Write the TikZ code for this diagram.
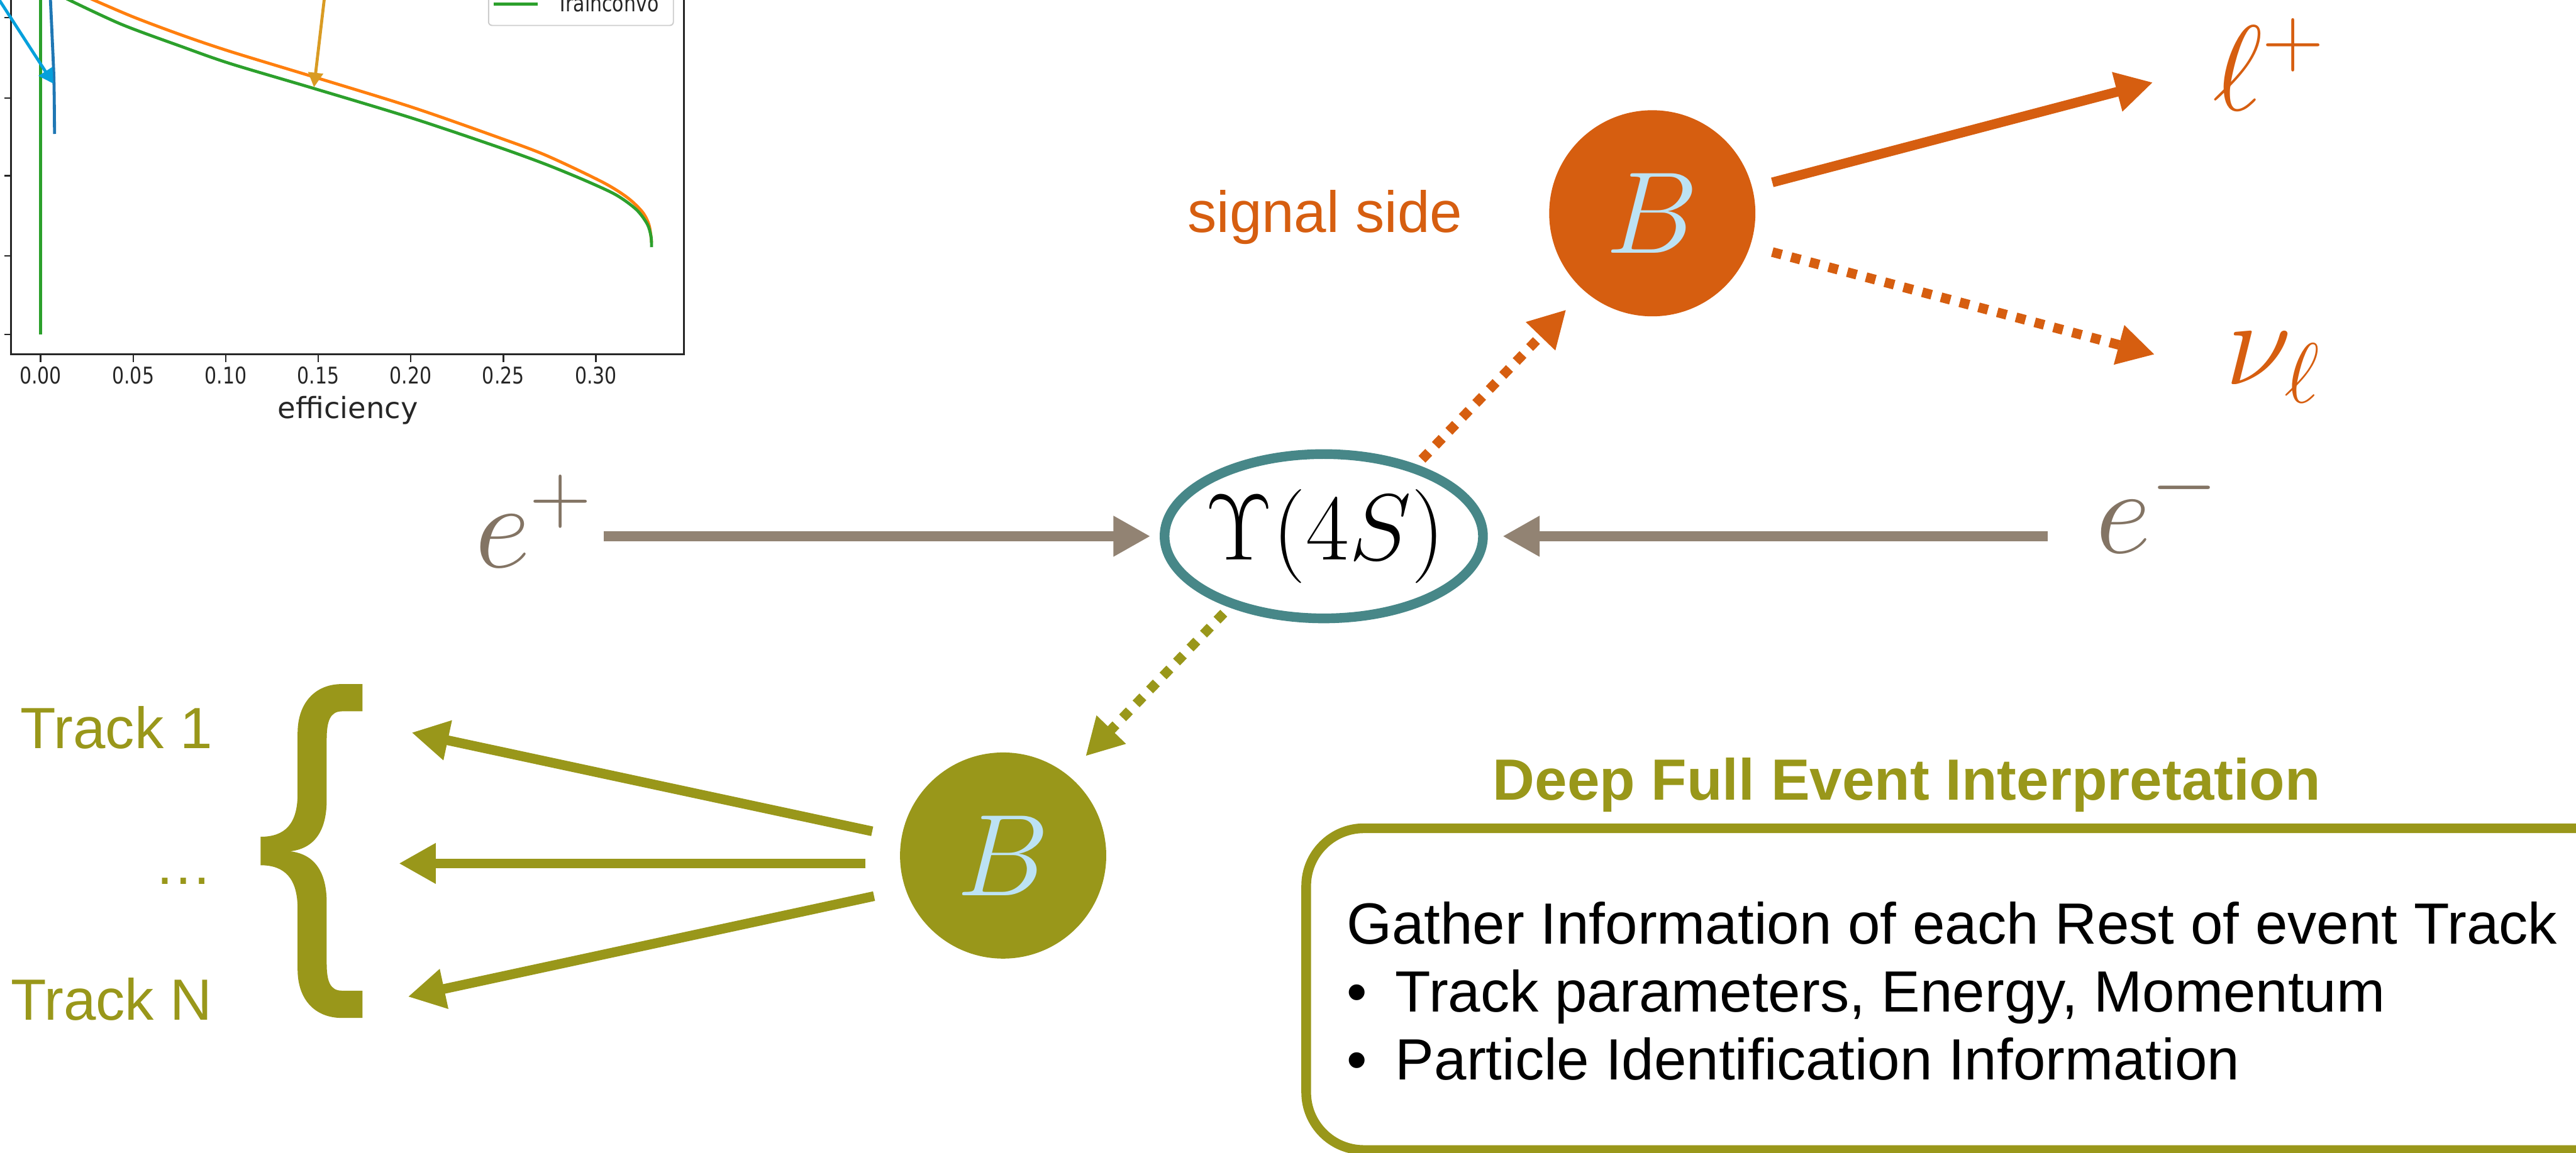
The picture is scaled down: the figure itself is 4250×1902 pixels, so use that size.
\RequirePackage{fix-cm}
\documentclass[tikz,border=0pt]{standalone}
\usepackage[no-math]{fontspec}
\newfontfamily\arial{Liberation Sans}
\newfontfamily\dejavu{DejaVu Sans}
\usetikzlibrary{arrows.meta,shapes.geometric}
\definecolor{sig}{RGB}{214,94,16}
\definecolor{tag}{RGB}{153,151,26}
\definecolor{tealring}{RGB}{71,135,136}
\definecolor{beam}{RGB}{146,131,115}
\definecolor{beamtxt}{RGB}{131,116,100}
\definecolor{bletter}{RGB}{188,226,244}
\definecolor{mplblue}{RGB}{31,119,180}
\definecolor{mplorange}{RGB}{255,127,14}
\definecolor{mplgreen}{RGB}{44,160,44}
\definecolor{annblue}{RGB}{5,160,220}
\definecolor{anngold}{RGB}{217,155,35}
\definecolor{axisgray}{RGB}{38,38,38}
\tikzset{
  fat/.style={line width=0.16cm},
  tri/.style={-{Triangle[length=0.61cm,width=0.63cm]}},
  dotline/.style={dash pattern=on 0.16cm off 0.16cm},
  sans/.style={font=\arial\fontsize{27.3}{33}\selectfont, inner sep=0},
  mathbig/.style={font=\fontsize{57}{62}\selectfont, inner sep=0},
  ticklab/.style={font=\dejavu\fontsize{10.8}{12}\selectfont, text=axisgray, inner sep=0},
  curve/.style={line width=0.05cm},
  particle/.style={circle, minimum size=3.4cm, inner sep=0, text=bletter, font=\fontsize{54.6}{58}\selectfont},
}
\begin{document}
\begin{tikzpicture}[x=0.01cm,y=-0.01cm]
\useasboundingbox (0,0) rectangle (4250,1902);
\clip (0,0) rectangle (4250,1902);

% ---------------- plot fragment ----------------
\draw[mplgreen, curve] (67,-5) -- (67,552);
\draw[mplblue, curve] plot[smooth] coordinates {(83,-5) (86,60) (89,133) (90,221)};
\draw[mplorange, curve] plot[smooth] coordinates {(150,-2) (220,28) (300,58) (380,85) (518,127) (680,177) (820,226) (900,256) (993,300) (1035,326) (1060,350) (1071,372) (1075,400)};
\draw[mplgreen, curve] plot[smooth] coordinates {(110,-2) (200,40) (300,77) (380,105) (518,146) (680,195) (820,242) (900,271) (968,299) (1017,322) (1050,346) (1068,370) (1074,390) (1075,408)};
\draw[axisgray, line width=0.03cm] (18,-10) -- (18,585) -- (1128,585) -- (1128,-10);
\foreach \yy in {29,162,290,422,552}
  \draw[axisgray, line width=0.025cm] (7,\yy) -- (18,\yy);
\foreach \k/\lab in {0/0.00,1/0.05,2/0.10,3/0.15,4/0.20,5/0.25,6/0.30}{
  \draw[axisgray, line width=0.025cm] (67+152.7*\k,585) -- (67+152.7*\k,598);
  \node[ticklab, anchor=base] (tick\k) at (67+152.7*\k,633) {\scalebox{0.82}[1]{\lab}};
}
\node[font=\dejavu\fontsize{13.7}{16}\selectfont, text=axisgray, inner sep=0, anchor=base] (xlab) at (574,690) {efficiency};
\draw[rounded corners=0.06cm, draw=black!20, fill=white, line width=0.02cm] (806,-20) rectangle (1111,42);
\draw[mplgreen, curve] (815,7) -- (887,7);
\node[ticklab, anchor=base west] (legtxt) at (918,19) {\scalebox{0.82}[1]{Trainconvo}};
\draw[annblue, line width=0.05cm, -{Triangle[length=0.24cm,width=0.26cm]}] (-5,-6) -- (88,138);
\draw[anngold, line width=0.05cm, -{Triangle[length=0.24cm,width=0.24cm]}] (536,-10) -- (518,144);

% ---------------- main diagram ----------------
\node[ellipse, draw=tealring, line width=0.16cm, minimum width=5.25cm, minimum height=2.71cm, inner sep=0] (ups) at (2184,885) {};
\node[inner sep=0, font=\fontsize{44.1}{48}\selectfont] (upstxt) at (2186,885) {$\Upsilon(4S)$};

\node[mathbig, text=beamtxt, anchor=base west] (ep) at (783,936) {$e^{+}$};
\node[mathbig, text=beamtxt, anchor=base west] (em) at (3457,913) {$e^{-}$};
\node[mathbig, text=sig, anchor=base west] (lp) at (3650,182) {$\ell^{+}$};
\node[mathbig, text=sig, anchor=base west] (nu) at (3671,634) {$\nu_{\ell}$};

\node[particle, fill=sig] (sigB) at (2726,352) {$B$};
\node[particle, fill=tag] (tagB) at (1655,1412) {$B$};

% connector end points
\coordinate (epS) at (996,885);   \coordinate (upsW) at (1898,885);
\coordinate (emS) at (3378,885);  \coordinate (upsE) at (2479,885);
\coordinate (upsNE) at (2346,758); \coordinate (sigBin) at (2584,511);
\coordinate (sigBa) at (2924,301); \coordinate (lpT) at (3552,136);
\coordinate (sigBb) at (2924,416); \coordinate (nuT) at (3555,585);
\coordinate (upsSW) at (2019,1012); \coordinate (tagBin) at (1791,1248);
\coordinate (tagBa) at (1439,1372); \coordinate (trT1) at (679,1209);
\coordinate (tagBb) at (1428,1425); \coordinate (trT2) at (658,1425);
\coordinate (tagBc) at (1442,1479); \coordinate (trT3) at (673,1645);

\draw[beam, fat, tri] (epS) -- (upsW);
\draw[beam, fat, tri] (emS) -- (upsE);
\draw[sig, fat, tri, dotline] (upsNE) -- (sigBin);
\draw[sig, fat, tri] (sigBa) -- (lpT);
\draw[sig, fat, tri, dotline] (sigBb) -- (nuT);
\draw[tag, fat, tri, dotline] (upsSW) -- (tagBin);
\draw[tag, fat, tri] (tagBa) -- (trT1);
\draw[tag, fat, tri] (tagBb) -- (trT2);
\draw[tag, fat, tri] (tagBc) -- (trT3);

% brace
\fill[tag] (598,1129) -- (564,1129) .. controls (520,1129) and (491,1160) .. (491,1210)
  -- (491,1310) .. controls (491,1360) and (470,1381) .. (430,1381)
  -- (430,1428) .. controls (470,1428) and (491,1450) .. (491,1500)
  -- (491,1600) .. controls (491,1650) and (520,1680) .. (564,1680)
  -- (598,1680) -- (598,1635) -- (564,1635) .. controls (545,1635) and (539,1620) .. (539,1590)
  -- (539,1490) .. controls (539,1440) and (520,1410) .. (479,1405)
  .. controls (520,1400) and (539,1370) .. (539,1320)
  -- (539,1220) .. controls (539,1190) and (545,1174) .. (564,1174) -- (598,1174) -- cycle;

\node[sans, text=sig, anchor=base] (sigtxt) at (2186,383) {signal side};
\node[sans, text=tag, anchor=base east] (tr1) at (351,1235) {Track 1};
\node[sans, text=tag, anchor=base east] (trd) at (351,1459) {…};
\node[sans, text=tag, anchor=base east] (trN) at (351,1683) {Track N};

\node[sans, text=tag, anchor=base, font=\arial\bfseries\fontsize{27.3}{33}\selectfont] (title) at (3146,1320) {Deep Full Event Interpretation};
\draw[tag, line width=0.16cm, rounded corners=0.95cm] (2155,1367) rectangle (4450,1898);
\node[sans, anchor=base west] (l1) at (2221,1558) {Gather Information of each Rest of event Track};
\node[sans, anchor=base west] (l2) at (2221,1670) {\makebox[0.84em][l]{•}Track parameters, Energy, Momentum};
\node[sans, anchor=base west] (l3) at (2221,1782) {\makebox[0.84em][l]{•}Particle Identification Information};
\end{tikzpicture}
\end{document}
